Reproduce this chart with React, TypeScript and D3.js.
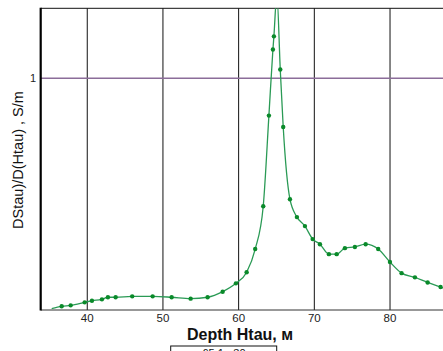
import React from "react";
import * as d3 from "d3";

const depth = [35.3, 36.62, 37.81, 39.66, 40.62, 41.94, 42.73, 43.75, 45.94, 48.64, 51.15, 53.66, 55.9, 57.89, 59.64, 61.06, 62.19, 63.25, 64.0, 64.53, 64.66, 65.05, 65.5, 65.89, 66.78, 67.7, 68.76, 69.78, 70.74, 71.93, 72.95, 74.04, 75.36, 76.78, 78.44, 79.99, 81.53, 83.29, 84.97, 86.68, 88.0];
const values = [0.006, 0.016, 0.02, 0.033, 0.04, 0.046, 0.055, 0.055, 0.059, 0.059, 0.055, 0.049, 0.055, 0.079, 0.115, 0.163, 0.263, 0.448, 0.839, 1.124, 1.181, 1.36, 1.038, 0.79, 0.478, 0.401, 0.362, 0.306, 0.284, 0.241, 0.241, 0.267, 0.272, 0.284, 0.263, 0.207, 0.159, 0.141, 0.119, 0.099, 0.085];
// points drawn with markers (the line start, the clipped peak and off-plot tail have none)
const markerFlags = [0, 1, 1, 1, 1, 1, 1, 1, 1, 1, 1, 1, 1, 1, 1, 1, 1, 1, 1, 1, 1, 0, 1, 1, 1, 1, 1, 1, 1, 1, 1, 1, 1, 1, 1, 1, 1, 1, 1, 1, 0];
const xTicks = [40, 50, 60, 70, 80];
const yTicks = [1];
const xTitle = "Depth  Htau, м";
const yTitle = "DStau)/D(Htau) , S/m";
const legendText = "—  =65  1 =30";

export default function App() {
  const W = 443, H = 351;
  const left = 40.7, right = 443, top = 8.3, bottom = 310;
  const x = d3.scaleLinear().domain([33.85, 87.0]).range([left, right]);
  const y = d3.scaleLinear().domain([0, 1.302]).range([bottom, top]);
  const line = d3.line<number>().x((_, i) => x(depth[i])).y((v) => y(v)).curve(d3.curveMonotoneX);
  const d = line(values) || "";
  const font = "'Liberation Sans', Arial, sans-serif";
  return (
    <svg width={W} height={H} style={{ position: "absolute", left: 0, top: 0, background: "#fff" }} fontFamily={font}>
      <defs>
        <clipPath id="plot">
          <rect x={left} y={top} width={right - left} height={bottom - top} />
        </clipPath>
      </defs>
      <rect x={0} y={0} width={W} height={H} fill="#fff" />
      {xTicks.map((t) => (
        <line key={t} x1={x(t)} x2={x(t)} y1={top} y2={bottom} stroke="#111" strokeWidth={1} />
      ))}
      {yTicks.map((t) => (
        <line key={t} x1={left} x2={right} y1={y(t)} y2={y(t)} stroke="#8b6d99" strokeWidth={1.5} />
      ))}
      <line x1={left} x2={right} y1={top} y2={top} stroke="#111" strokeWidth={1} />
      <line x1={left} x2={right} y1={bottom} y2={bottom} stroke="#333" strokeWidth={1} />
      <line x1={left} x2={left} y1={top - 0.5} y2={bottom + 0.5} stroke="#000" strokeWidth={2.2} />
      <g clipPath="url(#plot)">
        <path d={d} fill="none" stroke="#2a9a55" strokeWidth={1.3} />
        {values.map((v, i) =>
          markerFlags[i] ? (
            <circle key={i} cx={x(depth[i])} cy={y(v)} r={2.2} fill="#0a8a2a" />
          ) : null
        )}
      </g>
      {xTicks.map((t) => (
        <text key={t} x={x(t)} y={322} fontSize={11.5} textAnchor="middle" fill="#222">{t}</text>
      ))}
      {yTicks.map((t) => (
        <text key={t} x={36} y={y(t) + 4} fontSize={11} textAnchor="end" fill="#222">{t}</text>
      ))}
      <text x={240} y={340} fontSize={16} fontWeight="bold" textAnchor="middle" fill="#111">{xTitle}</text>
      <text transform={`translate(23,160) rotate(-90)`} fontSize={14.5} textAnchor="middle" fill="#111">{yTitle}</text>
      <rect x={170.7} y={346} width={106} height={12} fill="#fff" stroke="#111" strokeWidth={1} />
      <text x={182} y={357} fontSize={11} fill="#111">{legendText}</text>
    </svg>
  );
}
